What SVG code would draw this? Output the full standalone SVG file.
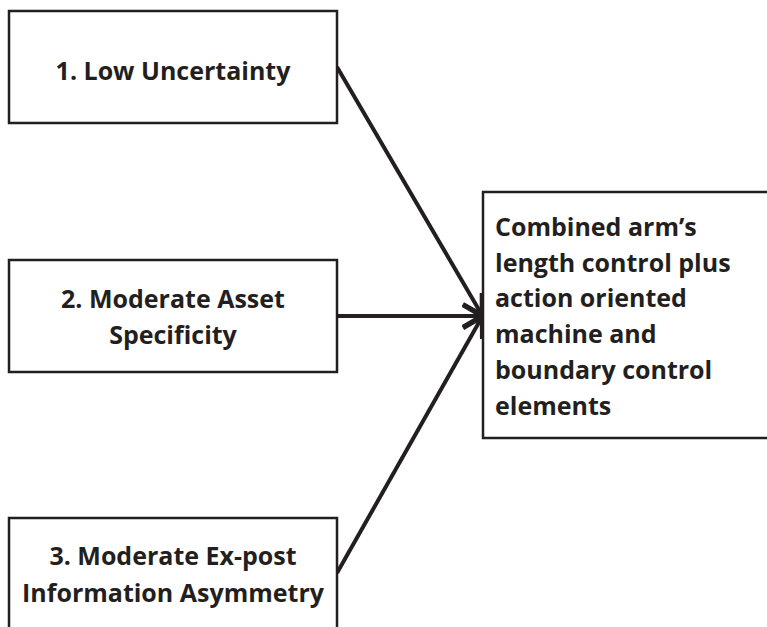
<svg xmlns="http://www.w3.org/2000/svg" width="767" height="627" viewBox="0 0 767 627">
  <style>
    .box { fill: #ffffff; stroke: #231f20; stroke-width: 2.5; }
    .lbl { font-family: "Open Sans", "Liberation Sans", sans-serif; font-weight: 700; font-size: 25px; fill: #231f20; }
    .mid { text-anchor: middle; }
    .conn { stroke: #231f20; stroke-width: 4; fill: none; marker-end: url(#arrow); }
  </style>
  <defs>
    <marker id="arrow" markerUnits="userSpaceOnUse" viewBox="-22 -14 26 28" refX="0" refY="0" markerWidth="26" markerHeight="28" orient="auto" overflow="visible">
      <path d="M -19 -11 L 0 0 L -19 11" fill="none" stroke="#231f20" stroke-width="4.5" stroke-linejoin="miter"/>
    </marker>
  </defs>
  <rect x="0" y="0" width="767" height="627" fill="#ffffff"/>
  <g id="connectors">
    <line class="conn" x1="337" y1="67" x2="482" y2="315"/>
    <line class="conn" x1="337" y1="316" x2="482" y2="316"/>
    <line class="conn" x1="337" y1="573" x2="482" y2="317"/>
  </g>
  <g id="node-1">
    <rect class="box" x="9" y="11" width="328" height="112"/>
    <text class="lbl mid" x="173" y="80">1. Low Uncertainty</text>
  </g>
  <g id="node-2">
    <rect class="box" x="9" y="260" width="328" height="112"/>
    <text class="lbl mid" x="173" y="308">2. Moderate Asset</text>
    <text class="lbl mid" x="173" y="344">Specificity</text>
  </g>
  <g id="node-3">
    <rect class="box" x="9" y="518" width="328" height="140"/>
    <text class="lbl mid" x="173" y="565">3. Moderate Ex-post</text>
    <text class="lbl mid" x="173" y="602">Information Asymmetry</text>
  </g>
  <g id="node-outcome">
    <rect class="box" x="483" y="192" width="330" height="246"/>
    <text class="lbl" x="495" y="236">Combined arm’s</text>
    <text class="lbl" x="495" y="272">length control plus</text>
    <text class="lbl" x="495" y="307">action oriented</text>
    <text class="lbl" x="495" y="343">machine and</text>
    <text class="lbl" x="495" y="379">boundary control</text>
    <text class="lbl" x="495" y="415">elements</text>
  </g>
</svg>
